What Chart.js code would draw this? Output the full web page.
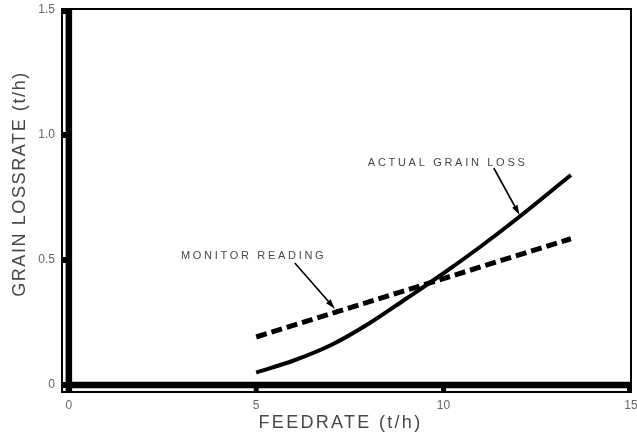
<!DOCTYPE html>
<html>
<head>
<meta charset="utf-8">
<script src="https://cdn.jsdelivr.net/npm/chart.js@4/dist/chart.umd.min.js"></script>
<style>
  html, body { margin: 0; padding: 0; background: #fff; }
</style>
</head>
<body>
<canvas id="chart" width="637" height="434"></canvas>
<script>
// Valeurs
const feedActual = [5, 6, 7, 8, 9, 10, 11, 12, 13.4];
const lossActual = [0.05, 0.098, 0.16, 0.245, 0.345, 0.447, 0.555, 0.67, 0.84];
const feedMonitor = [5, 13.4];
const lossMonitor = [0.192, 0.585];
const xTicks = [0, 5, 10, 15];
const yTicks = [0, 0.5, 1.0, 1.5];
const yTickLabels = ['0', '0.5', '1.0', '1.5'];

// Annotations : texte, point gauche du texte, flèche (départ -> pointe)
const noteTexts = ['ACTUAL GRAIN LOSS', 'MONITOR READING'];
const noteAt = [[7.98, 0.888], [2.99, 0.516]];
const arrowFrom = [[11.34, 0.868], [6.03, 0.488]];
const arrowTo = [[12.03, 0.68], [7.1, 0.305]];

const textGrey = '#474747';

// Cadre, axes épais et petites graduations
const framePlugin = {
    id: 'frame',
    beforeDatasetsDraw(chart) {
        const { ctx, chartArea, scales } = chart;
        const { left, right, top, bottom } = chartArea;
        const x0 = scales.x.getPixelForValue(0);
        const y0 = scales.y.getPixelForValue(0);
        ctx.save();
        ctx.strokeStyle = '#000';
        ctx.lineWidth = 2;
        ctx.strokeRect(left + 1, top + 1, right - left - 2, bottom - top - 2);
        ctx.lineWidth = 6.5;
        ctx.beginPath();
        ctx.moveTo(x0, top);
        ctx.lineTo(x0, bottom);
        ctx.moveTo(x0, y0);
        ctx.lineTo(right, y0);
        ctx.stroke();
        ctx.fillStyle = '#000';
        yTicks.forEach(v => {
            const y = scales.y.getPixelForValue(v);
            ctx.fillRect(left, Math.max(top, y - 3), x0 - left, 6);
        });
        xTicks.forEach(v => {
            const x = scales.x.getPixelForValue(v);
            ctx.fillRect(Math.min(right - 5, x - 2.5), y0, 5, bottom - y0);
        });
        ctx.restore();
    }
};

// Textes des annotations, flèches et titres des axes
const notesPlugin = {
    id: 'notes',
    afterDatasetsDraw(chart) {
        const { ctx, chartArea, scales } = chart;
        ctx.save();
        ctx.fillStyle = textGrey;
        ctx.strokeStyle = '#000';
        ctx.font = '11px "Liberation Sans", Arial, sans-serif';
        ctx.textBaseline = 'middle';
        ctx.textAlign = 'left';
        ctx.letterSpacing = '2.7px';
        noteTexts.forEach((t, i) => {
            ctx.fillText(t, scales.x.getPixelForValue(noteAt[i][0]), scales.y.getPixelForValue(noteAt[i][1]));
            const x1 = scales.x.getPixelForValue(arrowFrom[i][0]);
            const y1 = scales.y.getPixelForValue(arrowFrom[i][1]);
            const x2 = scales.x.getPixelForValue(arrowTo[i][0]);
            const y2 = scales.y.getPixelForValue(arrowTo[i][1]);
            const a = Math.atan2(y2 - y1, x2 - x1);
            ctx.lineWidth = 1.6;
            ctx.beginPath();
            ctx.moveTo(x1, y1);
            ctx.lineTo(x2 - 6 * Math.cos(a), y2 - 6 * Math.sin(a));
            ctx.stroke();
            ctx.fillStyle = '#000';
            ctx.beginPath();
            ctx.moveTo(x2, y2);
            ctx.lineTo(x2 - 10 * Math.cos(a) + 3 * Math.sin(a), y2 - 10 * Math.sin(a) - 3 * Math.cos(a));
            ctx.lineTo(x2 - 10 * Math.cos(a) - 3 * Math.sin(a), y2 - 10 * Math.sin(a) + 3 * Math.cos(a));
            ctx.closePath();
            ctx.fill();
            ctx.fillStyle = textGrey;
        });

        ctx.font = '18px "Liberation Sans", Arial, sans-serif';
        ctx.textAlign = 'center';
        ctx.letterSpacing = '2.3px';
        ctx.fillText('FEEDRATE (t/h)', (chartArea.left + chartArea.right) / 2 - 6, chartArea.bottom + 30);
        ctx.letterSpacing = '1.6px';
        ctx.translate(20, chartArea.top + 176);
        ctx.rotate(-Math.PI / 2);
        ctx.fillText('GRAIN LOSSRATE (t/h)', 0, 0);
        ctx.restore();
    }
};

const ctx = document.getElementById('chart').getContext('2d');
new Chart(ctx, {
    type: 'line',
    data: {
        datasets: [{
            label: 'Actual grain loss',
            data: feedActual.map((x, i) => ({ x: x, y: lossActual[i] })),
            borderColor: '#000',
            borderWidth: 4,
            pointRadius: 0,
            cubicInterpolationMode: 'monotone',
            fill: false
        }, {
            label: 'Monitor reading',
            data: feedMonitor.map((x, i) => ({ x: x, y: lossMonitor[i] })),
            borderColor: '#000',
            borderWidth: 5,
            borderDash: [11, 5],
            pointRadius: 0,
            fill: false
        }]
    },
    options: {
        responsive: false,
        animation: false,
        devicePixelRatio: 1,
        layout: { padding: { top: 8, right: 5, left: 0, bottom: 0 } },
        plugins: {
            legend: { display: false },
            tooltip: { enabled: false }
        },
        scales: {
            x: {
                type: 'linear',
                min: -0.21,
                max: 15.03,
                afterBuildTicks: s => { s.ticks = xTicks.map(v => ({ value: v })); },
                afterFit: s => { s.height = 41; s.paddingLeft = 0; s.paddingRight = 0; },
                grid: { display: false, drawTicks: false },
                border: { display: false },
                ticks: {
                    color: '#666',
                    font: { size: 12, family: '"Liberation Sans", Arial, sans-serif' },
                    padding: 5,
                    maxRotation: 0,
                    autoSkip: false
                }
            },
            y: {
                type: 'linear',
                min: -0.032,
                max: 1.508,
                afterBuildTicks: s => { s.ticks = yTicks.map(v => ({ value: v })); },
                afterFit: s => { s.width = 61; s.paddingTop = 0; s.paddingBottom = 0; },
                grid: { display: false, drawTicks: false },
                border: { display: false },
                ticks: {
                    color: '#666',
                    font: { size: 12, family: '"Liberation Sans", Arial, sans-serif' },
                    padding: 6,
                    autoSkip: false,
                    callback: v => yTickLabels[yTicks.indexOf(v)]
                }
            }
        }
    },
    plugins: [framePlugin, notesPlugin]
});
</script>
</body>
</html>
